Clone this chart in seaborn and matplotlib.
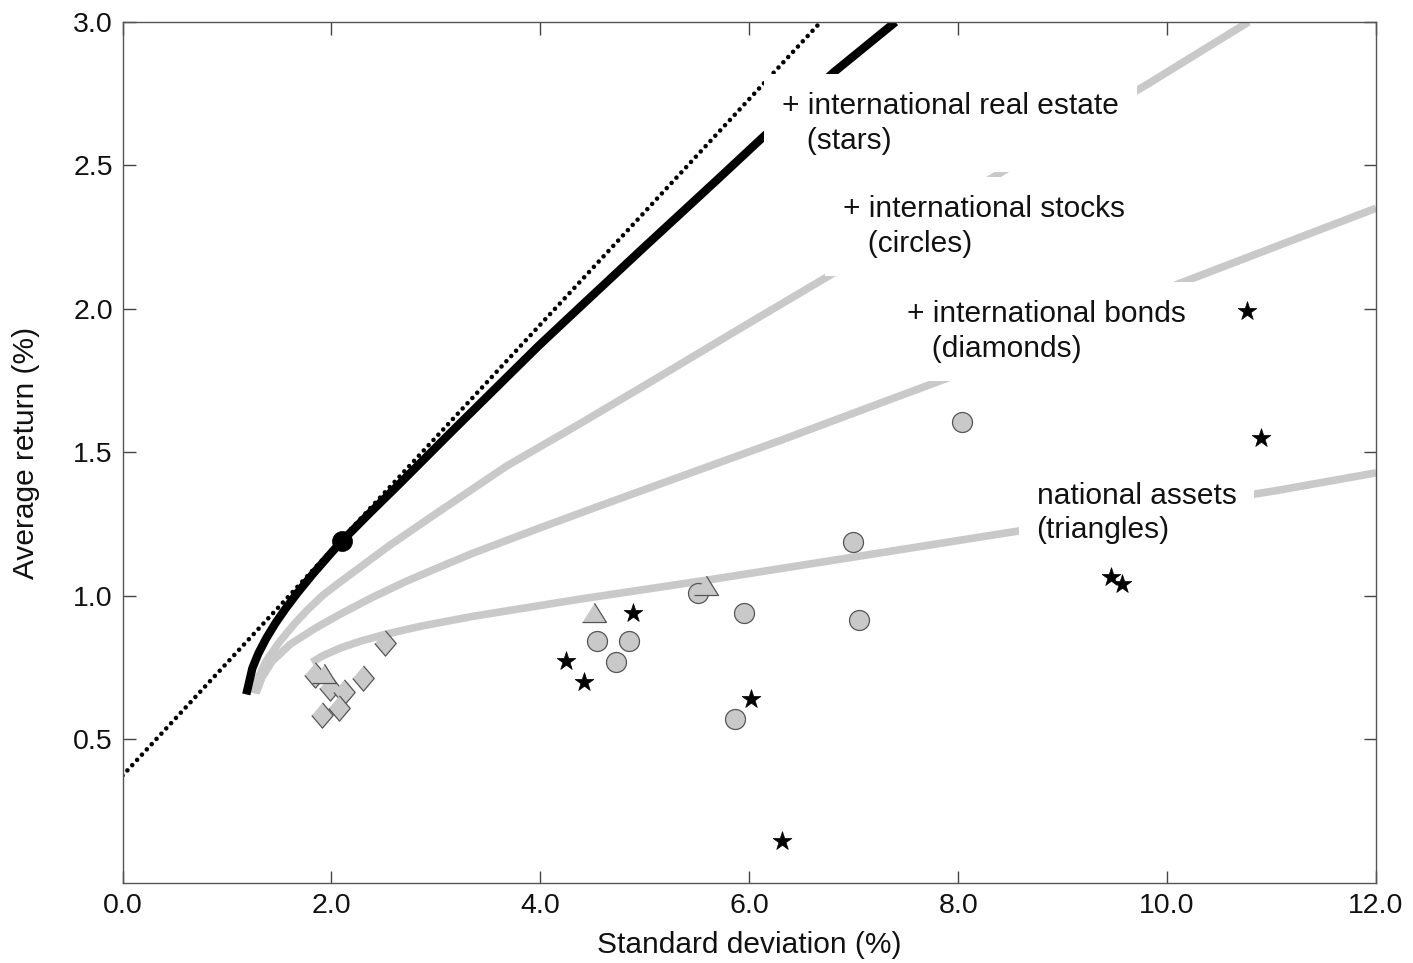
import numpy as np
import pandas as pd
import matplotlib.pyplot as plt
import seaborn as sns

# frontier with everything (+ international real estate), black
all_x = [1.185, 1.243, 1.301, 1.377, 1.464, 1.563, 1.673, 1.821, 2.013, 2.100, 2.370,
         2.650, 3.130, 3.500, 3.985, 4.360, 4.990, 5.687, 6.100, 6.810, 7.400]
all_y = [0.657, 0.748, 0.800, 0.853, 0.905, 0.957, 1.010, 1.076, 1.156, 1.191, 1.290,
         1.390, 1.565, 1.698, 1.872, 2.000, 2.214, 2.448, 2.588, 2.825, 3.000]

# + international stocks
stk_x = [1.258, 1.297, 1.373, 1.507, 1.651, 1.766, 1.919, 2.081, 2.560, 3.038, 3.679,
         4.378, 5.172, 5.976, 6.933, 8.254, 8.589, 9.861, 10.780]
stk_y = [0.661, 0.713, 0.772, 0.842, 0.905, 0.950, 1.003, 1.048, 1.177, 1.296, 1.453,
         1.600, 1.771, 1.946, 2.152, 2.441, 2.515, 2.794, 3.000]

# + international bonds
bnd_x = [1.278, 1.335, 1.431, 1.603, 1.842, 2.081, 2.397, 2.722, 3.038, 3.354, 3.995,
         4.569, 5.335, 6.292, 7.086, 7.986, 10.091, 12.0]
bnd_y = [0.661, 0.716, 0.772, 0.831, 0.887, 0.936, 0.996, 1.052, 1.101, 1.149, 1.237,
         1.314, 1.415, 1.541, 1.649, 1.771, 2.085, 2.351]

# national assets only
nat_x = [1.813, 1.909, 2.081, 2.273, 2.512, 2.847, 3.354, 4.378, 5.593, 6.990, 8.397,
         11.029, 12.0]
nat_y = [0.769, 0.790, 0.818, 0.842, 0.866, 0.894, 0.929, 0.989, 1.055, 1.135, 1.216,
         1.366, 1.429]

# capital market line (dotted) and tangency portfolio
cml_x = [0.0, 6.684]
cml_y = [0.374, 3.000]
tan_x = [2.100]
tan_y = [1.191]

# individual assets
dia_x = [2.512, 1.842, 2.301, 1.986, 2.120, 2.072, 1.909]
dia_y = [0.835, 0.724, 0.713, 0.678, 0.664, 0.608, 0.587]
tri_x = [1.928, 4.512, 5.584]
tri_y = [0.727, 0.940, 1.034]
cir_x = [4.541, 4.847, 4.722, 5.507, 5.947, 5.861, 6.990, 7.048, 8.033]
cir_y = [0.842, 0.842, 0.769, 1.010, 0.940, 0.573, 1.188, 0.915, 1.607]
star_x = [4.885, 4.244, 4.416, 6.014, 6.311, 9.459, 9.565, 10.761, 10.904]
star_y = [0.940, 0.772, 0.699, 0.640, 0.147, 1.066, 1.041, 1.994, 1.551]

xticks = [0, 2, 4, 6, 8, 10, 12]
yticks = [0.5, 1.0, 1.5, 2.0, 2.5, 3.0]

sns.set_style("ticks")
plt.rcParams["font.family"] = ["Liberation Sans", "DejaVu Sans"]

gray = "#c9c9c9"
edge = "#555555"

fig = plt.figure(figsize=(14.13, 9.63), dpi=100)
ax = fig.add_axes([0.0867, 0.0831, 0.8871, 0.8941])

sns.lineplot(x=cml_x, y=cml_y, sort=False, color="black", lw=3.3,
             linestyle=(0, (0.01, 1.55)), dash_capstyle="round", ax=ax, zorder=2)
for xs, ys in [(nat_x, nat_y), (bnd_x, bnd_y), (stk_x, stk_y)]:
    sns.lineplot(x=xs, y=ys, sort=False, color=gray, lw=5.5,
                 solid_capstyle="butt", solid_joinstyle="round", ax=ax, zorder=2)
sns.lineplot(x=all_x, y=all_y, sort=False, color="black", lw=6,
             solid_capstyle="butt", solid_joinstyle="round", ax=ax, zorder=2)

diamond = [(0, 1), (0.85, 0), (0, -1), (-0.85, 0)]
triangle = [(-1, -0.75), (1, -0.75), (0, 0.85)]
sns.scatterplot(x=cir_x, y=cir_y, marker="o", s=207, color=gray,
                edgecolor=edge, linewidth=0.9, ax=ax, zorder=4)
sns.scatterplot(x=dia_x, y=dia_y, marker=diamond, s=330, color=gray,
                edgecolor=edge, linewidth=0.9, ax=ax, zorder=4)
sns.scatterplot(x=tri_x, y=tri_y, marker=triangle, s=300, color=gray,
                edgecolor=edge, linewidth=0.9, ax=ax, zorder=4)
sns.scatterplot(x=star_x, y=star_y, marker="*", s=200, color="black",
                edgecolor="black", linewidth=0.5, ax=ax, zorder=4)
sns.scatterplot(x=tan_x, y=tan_y, marker="o", s=207, color="black",
                edgecolor="black", linewidth=0.5, ax=ax, zorder=4)

box = dict(boxstyle="square,pad=0.6", fc="white", ec="none")
labels = [
    (6.311, 2.647, "+ international real estate\n   (stars)"),
    (6.895, 2.288, "+ international stocks\n   (circles)"),
    (7.507, 1.921, "+ international bonds\n   (diamonds)"),
    (8.751, 1.289, "national assets\n(triangles)"),
]
for x, y, s in labels:
    ax.text(x, y, s, fontsize=21.5, ha="left", va="center", linespacing=1.3,
            color="#111111", bbox=box, zorder=5)

ax.set_xlim(0, 12)
ax.set_ylim(0, 3.0)
ax.set_xticks(xticks)
ax.set_xticklabels([f"{v:.1f}" for v in xticks])
ax.set_yticks(yticks)
ax.set_yticklabels([f"{v:.1f}" for v in yticks])
ax.tick_params(direction="in", top=True, right=True, length=9, width=1,
               color="#444444", labelsize=20.5, labelcolor="#111111")
ax.tick_params(axis="x", pad=7)
ax.tick_params(axis="y", pad=7)
for sp in ax.spines.values():
    sp.set_color("#555555")
    sp.set_linewidth(1)

ax.set_xlabel("Standard deviation (%)", fontsize=21.5, color="#111111")
ax.set_ylabel("Average return (%)", fontsize=21.5, color="#111111")
ax.xaxis.set_label_coords(0.5, -0.056)
ax.yaxis.set_label_coords(-0.066, 0.5)

fig.savefig("out.png", dpi=100)
